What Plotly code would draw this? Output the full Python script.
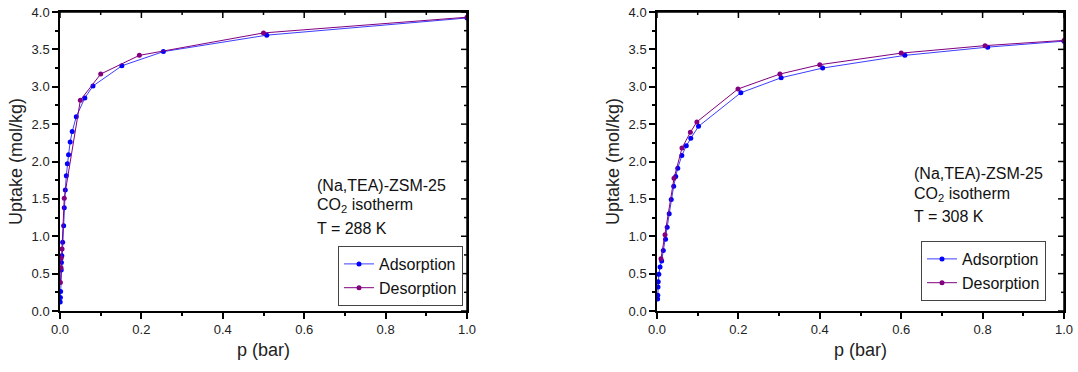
import plotly.graph_objects as go

# ---- Data: (Na,TEA)-ZSM-25, CO2 isotherm, T = 288 K ----
ads288_p = [0.0005, 0.001, 0.0015, 0.003, 0.0035, 0.0045, 0.0065, 0.009, 0.0105, 0.013,
            0.0155, 0.018, 0.021, 0.025, 0.030, 0.040, 0.061, 0.081, 0.152, 0.254, 0.508, 1.0]
ads288_u = [0.12, 0.18, 0.26, 0.55, 0.65, 0.74, 0.92, 1.14, 1.38, 1.62,
            1.81, 1.97, 2.09, 2.26, 2.40, 2.60, 2.85, 3.01, 3.28, 3.47, 3.69, 3.92]
des288_p = [0.001, 0.0025, 0.003, 0.005, 0.0105, 0.050, 0.100, 0.195, 0.500, 1.0]
des288_u = [0.38, 0.58, 0.71, 0.83, 1.51, 2.82, 3.17, 3.42, 3.72, 3.93]

# ---- Data: T = 308 K ----
ads308_p = [0.0015, 0.002, 0.0025, 0.003, 0.0045, 0.0075, 0.0115, 0.0155, 0.021, 0.025,
            0.030, 0.035, 0.041, 0.046, 0.051, 0.061, 0.072, 0.083, 0.102, 0.206,
            0.305, 0.407, 0.609, 0.8125, 1.0]
ads308_u = [0.16, 0.21, 0.32, 0.39, 0.49, 0.59, 0.67, 0.81, 0.96, 1.12,
            1.30, 1.49, 1.67, 1.80, 1.91, 2.08, 2.21, 2.31, 2.47, 2.92,
            3.12, 3.25, 3.42, 3.53, 3.61]
des308_p = [0.0098, 0.0197, 0.0418, 0.0614, 0.082, 0.098, 0.199, 0.302, 0.400, 0.600, 0.806, 1.0]
des308_u = [0.70, 1.02, 1.775, 2.18, 2.39, 2.53, 2.97, 3.17, 3.295, 3.45, 3.55, 3.62]

# ---- Tick values ----
x_major = [0.0, 0.2, 0.4, 0.6, 0.8, 1.0]
x_minor = [0.1, 0.3, 0.5, 0.7, 0.9]
y_major = [0.0, 0.5, 1.0, 1.5, 2.0, 2.5, 3.0, 3.5, 4.0]
y_minor = [0.25, 0.75, 1.25, 1.75, 2.25, 2.75, 3.25, 3.75]
X_RANGE = [0, 1.0]
Y_RANGE = [0, 4.0]

ads_name = "Adsorption"
des_name = "Desorption"
x_title = "p (bar)"
y_title = "Uptake (mol/kg)"
label_lines_288 = ["(Na,TEA)-ZSM-25", "CO<sub>2</sub> isotherm", "T = 288 K"]
label_lines_308 = ["(Na,TEA)-ZSM-25", "CO<sub>2</sub> isotherm", "T = 308 K"]

BLUE = "#0000ff"
BLUE_LINE = "#3d3dff"
PURPLE = "#800080"
FONT = "Liberation Sans, Arial, sans-serif"
W, H = 1078, 372

fig = go.Figure()

def add_series(p, u, name, mcol, lcol, xa, ya, legend):
    fig.add_trace(go.Scatter(
        x=p, y=u, name=name, mode="lines+markers",
        line=dict(color=lcol, width=1),
        marker=dict(color=mcol, size=5),
        xaxis=xa, yaxis=ya, legend=legend,
    ))

add_series(ads288_p, ads288_u, ads_name, BLUE, BLUE_LINE, "x", "y", "legend")
add_series(des288_p, des288_u, des_name, PURPLE, PURPLE, "x", "y", "legend")
add_series(ads308_p, ads308_u, ads_name, BLUE, BLUE_LINE, "x2", "y2", "legend2")
add_series(des308_p, des308_u, des_name, PURPLE, PURPLE, "x2", "y2", "legend2")

def px_x(v):
    return v / W

def px_y(v):
    return 1 - v / H

dom_left = [px_x(60), px_x(467)]
dom_right = [px_x(657), px_x(1064)]
dom_y = [px_y(311), px_y(12)]
MAJ, MIN = 6, 3

tickfont = dict(family=FONT, size=13, color="#222222")
titlefont = dict(family=FONT, size=18, color="#222222")

def xaxis_main(dom, anchor):
    return dict(domain=dom, anchor=anchor, range=X_RANGE, tickvals=x_major,
                tickformat=".1f", ticks="outside", ticklen=MAJ, tickwidth=1.5,
                tickcolor="black", showline=True, mirror=True, linecolor="black",
                linewidth=1.5, showgrid=False, zeroline=False, tickfont=tickfont,
                automargin=False,
                minor=dict(tickvals=x_minor, ticks="outside", ticklen=MIN, tickwidth=1.5,
                           tickcolor="black", showgrid=False),
                title=dict(text=x_title, font=titlefont, standoff=7))

def yaxis_main(dom, anchor):
    return dict(domain=dom, anchor=anchor, range=Y_RANGE, tickvals=y_major,
                tickformat=".1f", ticks="outside", ticklen=MAJ, tickwidth=1.5,
                tickcolor="black", showline=True, mirror=True, linecolor="black",
                linewidth=1.5, showgrid=False, zeroline=False, tickfont=tickfont,
                automargin=False,
                minor=dict(tickvals=y_minor, ticks="outside", ticklen=MIN, tickwidth=1.5,
                           tickcolor="black", showgrid=False),
                title=dict(text=y_title, font=titlefont, standoff=4))

# frame (top / right edges) with inward ticks, in paper coordinates
shapes = []
line_style = dict(color="black", width=1.5)
for xd in (dom_left, dom_right):
    x_left, x_right = xd
    y_bot, y_top = dom_y
    shapes.append(dict(type="line", xref="paper", yref="paper", x0=x_left, x1=x_right,
                       y0=y_top, y1=y_top, line=line_style, layer="above"))
    shapes.append(dict(type="line", xref="paper", yref="paper", x0=x_right, x1=x_right,
                       y0=y_bot, y1=y_top, line=line_style, layer="above"))
    for vals, ln in ((x_major, MAJ), (x_minor, MIN)):
        for v in vals:
            xp = x_left + (v - X_RANGE[0]) / (X_RANGE[1] - X_RANGE[0]) * (x_right - x_left)
            shapes.append(dict(type="line", xref="paper", yref="paper", x0=xp, x1=xp,
                               y0=y_top, y1=y_top - ln / H, line=line_style, layer="above"))
    for vals, ln in ((y_major, MAJ), (y_minor, MIN)):
        for v in vals:
            yp = y_bot + (v - Y_RANGE[0]) / (Y_RANGE[1] - Y_RANGE[0]) * (y_top - y_bot)
            shapes.append(dict(type="line", xref="paper", yref="paper", x0=x_right,
                               x1=x_right - ln / W, y0=yp, y1=yp, line=line_style,
                               layer="above"))

legend_common = dict(font=dict(family=FONT, size=16, color="#111111"),
                     bgcolor="white", bordercolor="#444444", borderwidth=1,
                     xanchor="right", yanchor="middle", tracegroupgap=0)

annotations = []
for lines, x0, ys in ((label_lines_288, 315, [185, 206, 228]),
                      (label_lines_308, 912, [173, 194, 216])):
    for txt, yy in zip(lines, ys):
        annotations.append(dict(text=txt, x=px_x(x0), y=px_y(yy), xref="paper",
                                yref="paper", xanchor="left", yanchor="middle",
                                showarrow=False,
                                font=dict(family=FONT, size=16, color="#111111")))

fig.update_layout(
    width=W, height=H, margin=dict(l=0, r=0, t=0, b=0),
    paper_bgcolor="white", plot_bgcolor="white",
    xaxis=xaxis_main(dom_left, "y"),
    yaxis=yaxis_main(dom_y, "x"),
    xaxis2=xaxis_main(dom_right, "y2"),
    yaxis2=yaxis_main(dom_y, "x2"),
    legend=dict(x=px_x(463), y=px_y(276), **legend_common),
    legend2=dict(x=px_x(1046), y=px_y(271), **legend_common),
    annotations=annotations,
    shapes=shapes,
    showlegend=True,
)

fig.write_html("out.html")
